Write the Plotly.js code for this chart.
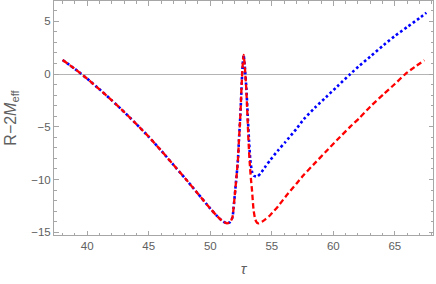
<!DOCTYPE html>
<html>
<head>
<meta charset="utf-8">
<script src="https://cdn.plot.ly/plotly-3.0.1.min.js"></script>
<style>html,body{margin:0;padding:0;background:#fff;}#chart{width:436px;height:284px;}</style>
</head>
<body>
<div id="chart"></div>
<script>
// Shared part of both curves (up to the peak)
const tauCommon = [38.0, 39.0, 40.0, 41.0, 42.0, 43.0, 44.0, 45.0, 46.0, 47.0, 48.0, 49.0, 50.0, 50.5, 51.0, 51.35, 51.6, 51.8, 51.9, 52.03, 52.15, 52.25, 52.33, 52.45, 52.55, 52.63, 52.71];
const yCommon   = [1.33, 0.48, -0.45, -1.45, -2.5, -3.6, -4.75, -5.95, -7.25, -8.6, -9.95, -11.35, -12.75, -13.4, -13.95, -14.15, -14.05, -13.6, -12.6, -11.0, -9.5, -8.1, -6.26, -3.8, -1.0, 0.8, 1.8];

// Blue (dotted) branch after the peak
const tauBlue = [52.8, 52.94, 53.04, 53.15, 53.25, 53.39, 53.55, 53.8, 54.1, 54.5, 54.88, 55.5, 56.1, 57.0, 57.59, 58.5, 59.4, 60.3, 61.38, 62.14, 63.0, 64.09, 65.0, 66.0, 67.0, 67.56];
const yBlue   = [0.8, -1.5, -3.9, -6.3, -8.1, -9.25, -9.65, -9.73, -9.4, -8.75, -8.15, -7.25, -6.45, -5.2, -4.3, -3.2, -2.2, -1.2, 0.0, 0.8, 1.65, 2.75, 3.6, 4.45, 5.3, 5.8];

// Red (dashed) branch after the peak
const tauRed = [52.8, 52.93, 53.02, 53.1, 53.2, 53.3, 53.39, 53.52, 53.66, 53.8, 53.95, 54.2, 54.5, 54.88, 55.5, 56.1, 57.0, 57.59, 58.5, 59.4, 60.3, 61.38, 62.14, 63.0, 64.09, 65.0, 65.85, 66.6, 67.4];
const yRed   = [0.8, -1.5, -3.9, -6.2, -8.3, -9.9, -11.0, -12.9, -13.8, -14.1, -14.15, -14.0, -13.75, -13.36, -12.55, -11.65, -10.4, -9.57, -8.45, -7.35, -6.26, -4.99, -4.15, -3.1, -1.9, -0.95, 0.0, 0.65, 1.3];

const xTicks = [40, 45, 50, 55, 60, 65];
const yTicks = [-15, -10, -5, 0, 5];
const yTickText = ['\u221215', '\u221210', '\u22125', '0', '5'];

const frameColor = '#a6a6a6';
const labelColor = '#606060';
const font = 'Liberation Sans, Arial, sans-serif';

const traces = [
  {
    x: tauCommon.concat(tauBlue), y: yCommon.concat(yBlue),
    mode: 'lines', type: 'scatter',
    line: {color: '#0000ff', width: 2.6, dash: '2.6px,2.6px', shape: 'spline', smoothing: 0.6},
    hoverinfo: 'skip'
  },
  {
    x: tauCommon.concat(tauRed), y: yCommon.concat(yRed),
    mode: 'lines', type: 'scatter',
    line: {color: '#ff0000', width: 2.3, dash: '5.5px,3px', shape: 'spline', smoothing: 0.6},
    hoverinfo: 'skip'
  }
];

const axisCommon = {
  showgrid: false,
  showline: true, linecolor: frameColor, linewidth: 1,
  mirror: 'allticks',
  ticks: 'inside', ticklen: 4.5, tickcolor: frameColor, tickwidth: 1,
  tickfont: {family: font, size: 11.5, color: labelColor},
};

const layout = {
  width: 436, height: 284,
  margin: {l: 54, r: 3, t: 1, b: 49},
  paper_bgcolor: '#fff', plot_bgcolor: '#fff',
  showlegend: false,
  xaxis: Object.assign({}, axisCommon, {
    range: [37.3, 68.1],
    tickvals: xTicks, ticktext: xTicks.map(String),
    zeroline: false,
    minor: {ticks: 'inside', ticklen: 2.5, dtick: 1, tick0: 0, tickcolor: frameColor, showgrid: false},
    title: {text: '<i>\u03c4</i>', font: {family: font, size: 15, color: labelColor}, standoff: 12}
  }),
  yaxis: Object.assign({}, axisCommon, {
    range: [-15.26, 6.92],
    tickvals: yTicks, ticktext: yTickText,
    zeroline: true, zerolinecolor: '#b4b4b4', zerolinewidth: 1,
    minor: {ticks: 'inside', ticklen: 2.5, dtick: 1, tick0: 0, tickcolor: frameColor, showgrid: false},
    title: {text: 'R\u22122<i>M</i><sub>eff</sub>', font: {family: font, size: 16, color: labelColor}, standoff: 10}
  })
};

Plotly.newPlot('chart', traces, layout, {staticPlot: true, displayModeBar: false});
</script>
</body>
</html>
